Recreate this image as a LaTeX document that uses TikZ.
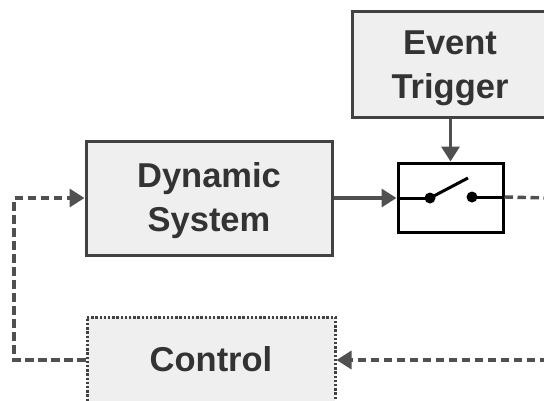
\documentclass[tikz,border=0pt]{standalone}
\usepackage{fontspec}
\setmainfont{Liberation Sans}
\usetikzlibrary{arrows.meta}
\definecolor{boxfill}{HTML}{EFEFEF}
\definecolor{edge}{HTML}{424242}
\definecolor{wire}{HTML}{505050}
\definecolor{ink}{HTML}{333333}
\tikzset{
  block/.style={draw=edge, line width=3pt, fill=boxfill, rectangle, inner sep=0pt},
  blocktext/.style={text=ink, font=\fontsize{34.5}{44}\selectfont\bfseries,
    align=center, inner sep=0pt},
  ctrlblock/.style={block, dash pattern=on 2.4pt off 1.8pt, line width=3pt},
  switchbox/.style={draw=black, line width=3pt, fill=white, rectangle, inner sep=0pt},
  flow/.style={draw=wire, line width=3.4pt, -{Triangle[length=15pt,width=18pt]}},
  dashflow/.style={flow, dash pattern=on 8.5pt off 4.5pt},
  dashwire/.style={draw=wire, line width=3.4pt, dash pattern=on 8.5pt off 4.5pt},
  contact/.style={circle, fill=black, inner sep=0pt, minimum size=11pt}
}
\begin{document}
\begin{tikzpicture}[x=1pt, y=-1pt]
  \useasboundingbox (0,0) rectangle (544,400);
  \clip (0,0) rectangle (544,400);

  % blocks
  \node[block, minimum width=246pt, minimum height=114pt] (ds) at (209,198) {};
  \node[block, minimum width=196pt, minimum height=106pt] (et) at (450,64) {};
  \node[switchbox, minimum width=105pt, minimum height=69pt] (sw) at (450.5,197.5) {};
  \node[ctrlblock, minimum width=248pt, minimum height=86pt] (ctrl) at (211,360) {};

  % block labels
  \node[blocktext] (dstext) at ([yshift=-2.5pt]ds.center) {Dynamic\\System};
  \node[blocktext] (ettext) at ([yshift=-4pt]et.center) {Event\\Trigger};
  \node[blocktext] (ctrltext) at ([yshift=1pt]ctrl.center) {Control};

  % free ends and corners of the loops
  \coordinate (outR) at (548,198);
  \coordinate (inR) at (548,360);
  \coordinate (loopL) at (14,360);

  % switch internals
  \coordinate (c1) at (430,198);
  \coordinate (c2) at (472,197);
  \coordinate (lever) at (468,178);
  \draw[black, line width=3pt] (sw.west |- c1) -- (c1);
  \draw[black, line width=3pt] (c1) -- (lever);
  \draw[black, line width=3pt] (c2) -- (sw.east |- c2);
  \node[contact] (k1) at (c1) {};
  \node[contact] (k2) at (c2) {};

  % signal flow
  \draw[flow] (et.south -| sw.north) -- (sw.north);
  \draw[flow] (ds.east) -- (sw.west |- ds.east);
  \draw[dashwire] (sw.east |- c2) -- (outR);
  \draw[dashflow] (inR) -- (ctrl.east);
  \draw[dashflow] (ctrl.west) -- (loopL) |- (ds.west);
\end{tikzpicture}
\end{document}
